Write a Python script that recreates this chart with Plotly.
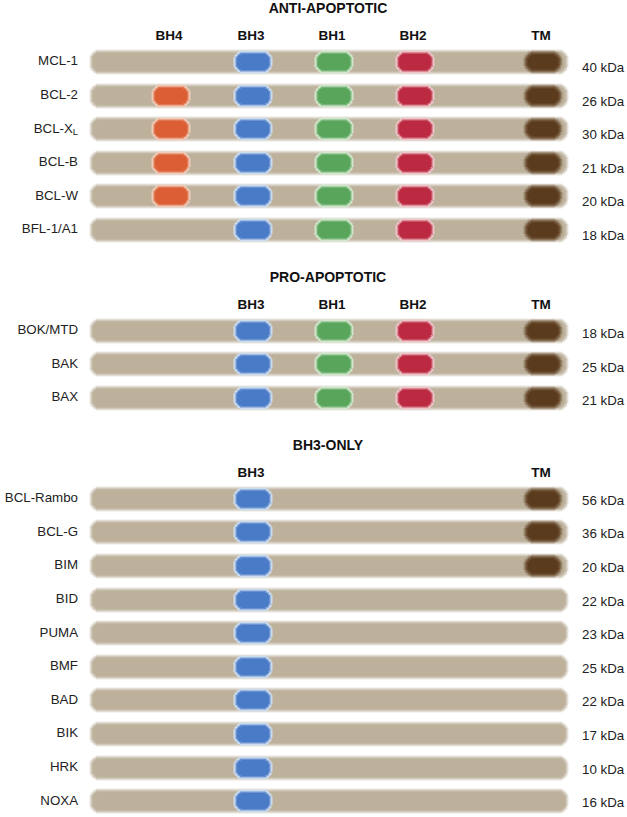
import plotly.graph_objects as go

# ---------------- data ----------------
anti_names = ["MCL-1", "BCL-2", "BCL-X<sub>L</sub>", "BCL-B", "BCL-W", "BFL-1/A1"]
anti_kda = [40, 26, 30, 21, 20, 18]
anti_domains = [
    ["BH3", "BH1", "BH2", "TM"],
    ["BH4", "BH3", "BH1", "BH2", "TM"],
    ["BH4", "BH3", "BH1", "BH2", "TM"],
    ["BH4", "BH3", "BH1", "BH2", "TM"],
    ["BH4", "BH3", "BH1", "BH2", "TM"],
    ["BH3", "BH1", "BH2", "TM"],
]
pro_names = ["BOK/MTD", "BAK", "BAX"]
pro_kda = [18, 25, 21]
pro_domains = [["BH3", "BH1", "BH2", "TM"]] * 3

bh3_names = ["BCL-Rambo", "BCL-G", "BIM", "BID", "PUMA", "BMF", "BAD", "BIK", "HRK", "NOXA"]
bh3_kda = [56, 36, 20, 22, 23, 25, 22, 17, 10, 16]
bh3_domains = [["BH3", "TM"], ["BH3", "TM"], ["BH3", "TM"]] + [["BH3"]] * 7

group_titles = ["ANTI-APOPTOTIC", "PRO-APOPTOTIC", "BH3-ONLY"]
group_header_domains = [["BH4", "BH3", "BH1", "BH2", "TM"], ["BH3", "BH1", "BH2", "TM"], ["BH3", "TM"]]

# schematic positions of the domains along the protein bar
domain_pos = {"BH4": 171, "BH3": 253, "BH1": 334, "BH2": 415, "TM": 543}
bar_start, bar_end = 90, 568

# ---------------- layout constants ----------------
W, H = 627, 817
PX = 33.6            # pixels per row
group_first_row = [0, 8, 13]
kda_offset = [0.2, 0.12, 0.08]   # kDa label vertical offset (rows)
title_offset = -1.55
header_offset = -0.76

colors = {
    "bar": "#bdb19c",
    "BH4": "#dc5e34",
    "BH3": "#4a7bc7",
    "BH1": "#59a55c",
    "BH2": "#bb2a40",
    "TM": "#5b3b1d",
}
halo = {
    "BH4": "#f4cdb9",
    "BH3": "#cddff6",
    "BH1": "#d3eacf",
    "BH2": "#f1c5cb",
}

groups = [
    (anti_names, anti_kda, anti_domains),
    (pro_names, pro_kda, pro_domains),
    (bh3_names, bh3_kda, bh3_domains),
]

fig = go.Figure()


def add_pill(rows, x0s, w, h, color, radius, layers, opacity=1.0):
    """layers: list of (extra_px, opacity) drawn before the core."""
    specs = list(layers) + [(0, opacity)]
    for k, a in specs:
        fig.add_trace(go.Bar(
            y=rows, x=[w + 2 * k] * len(rows), base=[x0 - k for x0 in x0s],
            orientation="h", width=(h + 2 * k) / PX,
            marker=dict(color=color, line=dict(width=0), cornerradius=radius + k),
            opacity=a, hoverinfo="skip", showlegend=False,
        ))


# collect rows
all_rows, all_names, all_kda = [], [], []
dom_rows = {d: [] for d in domain_pos}
kda_rows = []
for gi, (names, kdas, doms) in enumerate(groups):
    for i, (n, k, ds) in enumerate(zip(names, kdas, doms)):
        r = group_first_row[gi] + i
        all_rows.append(r)
        all_names.append(n)
        all_kda.append(f"{k} kDa")
        kda_rows.append(r + kda_offset[gi])
        for d in ds:
            dom_rows[d].append(r)

# tan protein bars
add_pill(all_rows, [bar_start + 3] * len(all_rows), (bar_end - bar_start) - 6, 18, colors["bar"], 6,
         [(4, 0.15), (3, 0.3), (2, 0.45), (1, 0.65)])

# domains
for d in ["BH4", "BH3", "BH1", "BH2"]:
    rows = dom_rows[d]
    c = domain_pos[d]
    add_pill(rows, [c - 19] * len(rows), 38, 22, halo[d], 9, [(1, 0.45)], opacity=0.85)
    add_pill(rows, [c - 16] * len(rows), 32, 16, colors[d], 6, [(2, 0.35), (1, 0.6)])
rows = dom_rows["TM"]
c = domain_pos["TM"]
add_pill(rows, [c - 15] * len(rows), 30, 14, colors["TM"], 6,
         [(5, 0.15), (4, 0.25), (3, 0.35), (2, 0.45), (1, 0.6)])

FONT = "Liberation Sans, Arial, Helvetica, sans-serif"

# left protein labels
fig.add_trace(go.Scatter(
    x=[78] * len(all_rows), y=all_rows, text=all_names, mode="text",
    textposition="middle left", textfont=dict(family=FONT, size=13.3, color="#222222"),
    hoverinfo="skip", showlegend=False,
))
# right kDa labels
fig.add_trace(go.Scatter(
    x=[582] * len(all_rows), y=kda_rows, text=all_kda, mode="text",
    textposition="middle right", textfont=dict(family=FONT, size=13.3, color="#222222"),
    hoverinfo="skip", showlegend=False,
))

# group titles and domain headers
tx, ty, tt = [], [], []
hx, hy, ht = [], [], []
for gi, title in enumerate(group_titles):
    tx.append(328)
    ty.append(group_first_row[gi] + title_offset)
    tt.append(f"<b>{title}</b>")
    for d in group_header_domains[gi]:
        hx.append(domain_pos[d] - 2)
        hy.append(group_first_row[gi] + header_offset)
        ht.append(f"<b>{d}</b>")
fig.add_trace(go.Scatter(
    x=tx, y=ty, text=tt, mode="text", textposition="middle center",
    textfont=dict(family=FONT, size=14, color="#111111"),
    hoverinfo="skip", showlegend=False,
))
fig.add_trace(go.Scatter(
    x=hx, y=hy, text=ht, mode="text", textposition="middle center",
    textfont=dict(family=FONT, size=13.5, color="#111111"),
    hoverinfo="skip", showlegend=False,
))

top = -62 / PX
bottom = top + H / PX
fig.update_layout(
    width=W, height=H,
    margin=dict(l=0, r=0, t=0, b=0),
    paper_bgcolor="white", plot_bgcolor="white",
    barmode="overlay", bargap=0,
    xaxis=dict(range=[0, W], visible=False, fixedrange=True),
    yaxis=dict(range=[bottom, top], visible=False, fixedrange=True),
    showlegend=False,
)

fig.write_html(
    "out.html",
    config={"displayModeBar": False},
    post_script="document.body.style.margin='0';document.body.style.overflow='hidden';",
)
